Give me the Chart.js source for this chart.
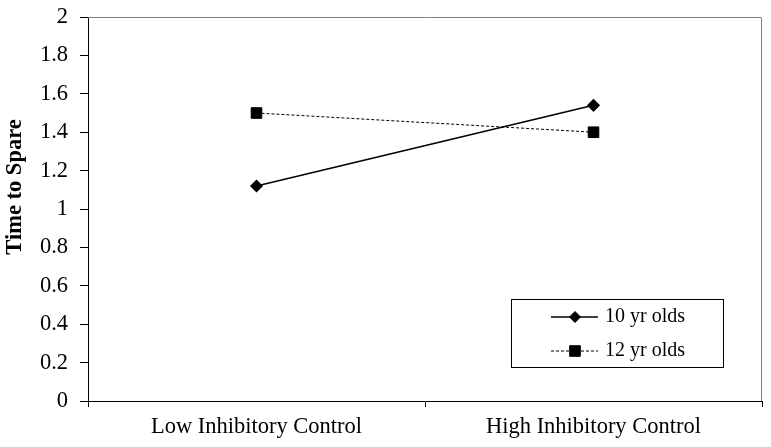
<!DOCTYPE html>
<html>
<head>
<meta charset="utf-8">
<script src="https://cdn.jsdelivr.net/npm/chart.js@4.4.0/dist/chart.umd.min.js"></script>
<style>
  html, body { margin: 0; padding: 0; background: #fff; }
  #wrap { width: 771px; height: 447px; }
</style>
</head>
<body>
<div id="wrap"><canvas id="myChart"></canvas></div>
<script>
// DATA
const categories = ['Low Inhibitory Control', 'High Inhibitory Control'];
const tenYrOlds = [1.12, 1.54];
const twelveYrOlds = [1.50, 1.40];
const seriesNames = ['10 yr olds', '12 yr olds'];
const yTitle = 'Time to Spare';

const serif = "'Liberation Serif', 'Times New Roman', serif";

// gray frame on top and right of the plot area, plus the y title (sits above centre in the original)
const frame = {
  id: 'frame',
  beforeDatasetsDraw(chart) {
    const a = chart.chartArea, ctx = chart.ctx;
    ctx.save();
    ctx.strokeStyle = '#808080';
    ctx.lineWidth = 1;
    ctx.beginPath();
    ctx.moveTo(a.left, a.top + 0.5);
    ctx.lineTo(a.right - 0.5, a.top + 0.5);
    ctx.lineTo(a.right - 0.5, a.bottom);
    ctx.stroke();

    ctx.translate(15, 187);
    ctx.rotate(-Math.PI / 2);
    ctx.fillStyle = '#000';
    ctx.font = 'bold 22.5px ' + serif;
    ctx.textAlign = 'center';
    ctx.textBaseline = 'middle';
    ctx.fillText(yTitle, 0, 0);
    ctx.restore();
  }
};

// legend box with line + marker samples, inside plot area
const boxLegend = {
  id: 'boxLegend',
  afterDraw(chart) {
    const ctx = chart.ctx;
    const x0 = 511, y0 = 299, w = 212, h = 68;
    ctx.save();
    ctx.fillStyle = '#fff';
    ctx.fillRect(x0, y0, w, h);
    ctx.strokeStyle = '#000';
    ctx.lineWidth = 1;
    ctx.strokeRect(x0 + 0.5, y0 + 0.5, w, h);
    chart.data.datasets.forEach((ds, i) => {
      const y = y0 + 18 + i * 34;
      ctx.strokeStyle = '#000';
      ctx.lineWidth = ds.borderWidth;
      ctx.setLineDash(ds.borderDash || []);
      ctx.beginPath();
      ctx.moveTo(x0 + 40, y);
      ctx.lineTo(x0 + 87, y);
      ctx.stroke();
      ctx.setLineDash([]);
      ctx.fillStyle = '#000';
      ctx.lineWidth = 1;
      Chart.helpers.drawPoint(ctx, {pointStyle: ds.pointStyle, radius: ds.pointRadius, rotation: 0, borderWidth: 1}, x0 + 64, y);
      ctx.font = '20px ' + serif;
      ctx.textBaseline = 'middle';
      ctx.fillText(ds.label, x0 + 94, y);
    });
    ctx.restore();
  }
};

const data = {
  labels: categories,
  datasets: [{
    label: seriesNames[0],
    data: tenYrOlds,
    borderColor: '#000',
    backgroundColor: '#000',
    borderWidth: 1.5,
    pointStyle: 'rectRot',
    pointRadius: 5.5,
    pointHoverRadius: 5.5
  }, {
    label: seriesNames[1],
    data: twelveYrOlds,
    borderColor: '#000',
    backgroundColor: '#000',
    borderWidth: 1,
    borderDash: [3, 2],
    pointStyle: 'rect',
    pointRadius: 7.5,
    pointHoverRadius: 7.5
  }]
};

const config = {
  type: 'line',
  data: data,
  plugins: [frame, boxLegend],
  options: {
    responsive: true,
    maintainAspectRatio: false,
    animation: false,
    layout: { padding: { left: 0, top: 17, right: 9, bottom: 0 } },
    plugins: {
      legend: { display: false },
      tooltip: { enabled: false }
    },
    scales: {
      x: {
        offset: true,
        grid: { offset: true, drawOnChartArea: false, color: '#000', tickLength: 6 },
        border: { color: '#000', width: 1 },
        ticks: { color: '#000', font: { family: serif, size: 22.5 }, padding: 7 },
        afterFit(s) { s.height = 46; s.paddingLeft = 0; s.paddingRight = 0; }
      },
      y: {
        min: 0,
        max: 2,
        grid: { drawOnChartArea: false, color: '#000', tickLength: 8 },
        border: { color: '#000', width: 1 },
        ticks: {
          stepSize: 0.2, color: '#000', font: { family: serif, size: 22.5 }, padding: 12,
          callback: v => String(Math.round(v * 10) / 10)
        },
        afterFit(s) { s.width = 88; s.paddingTop = 0; s.paddingBottom = 0; }
      }
    }
  }
};

var myChart = new Chart(document.getElementById('myChart'), config);
</script>
</body>
</html>
